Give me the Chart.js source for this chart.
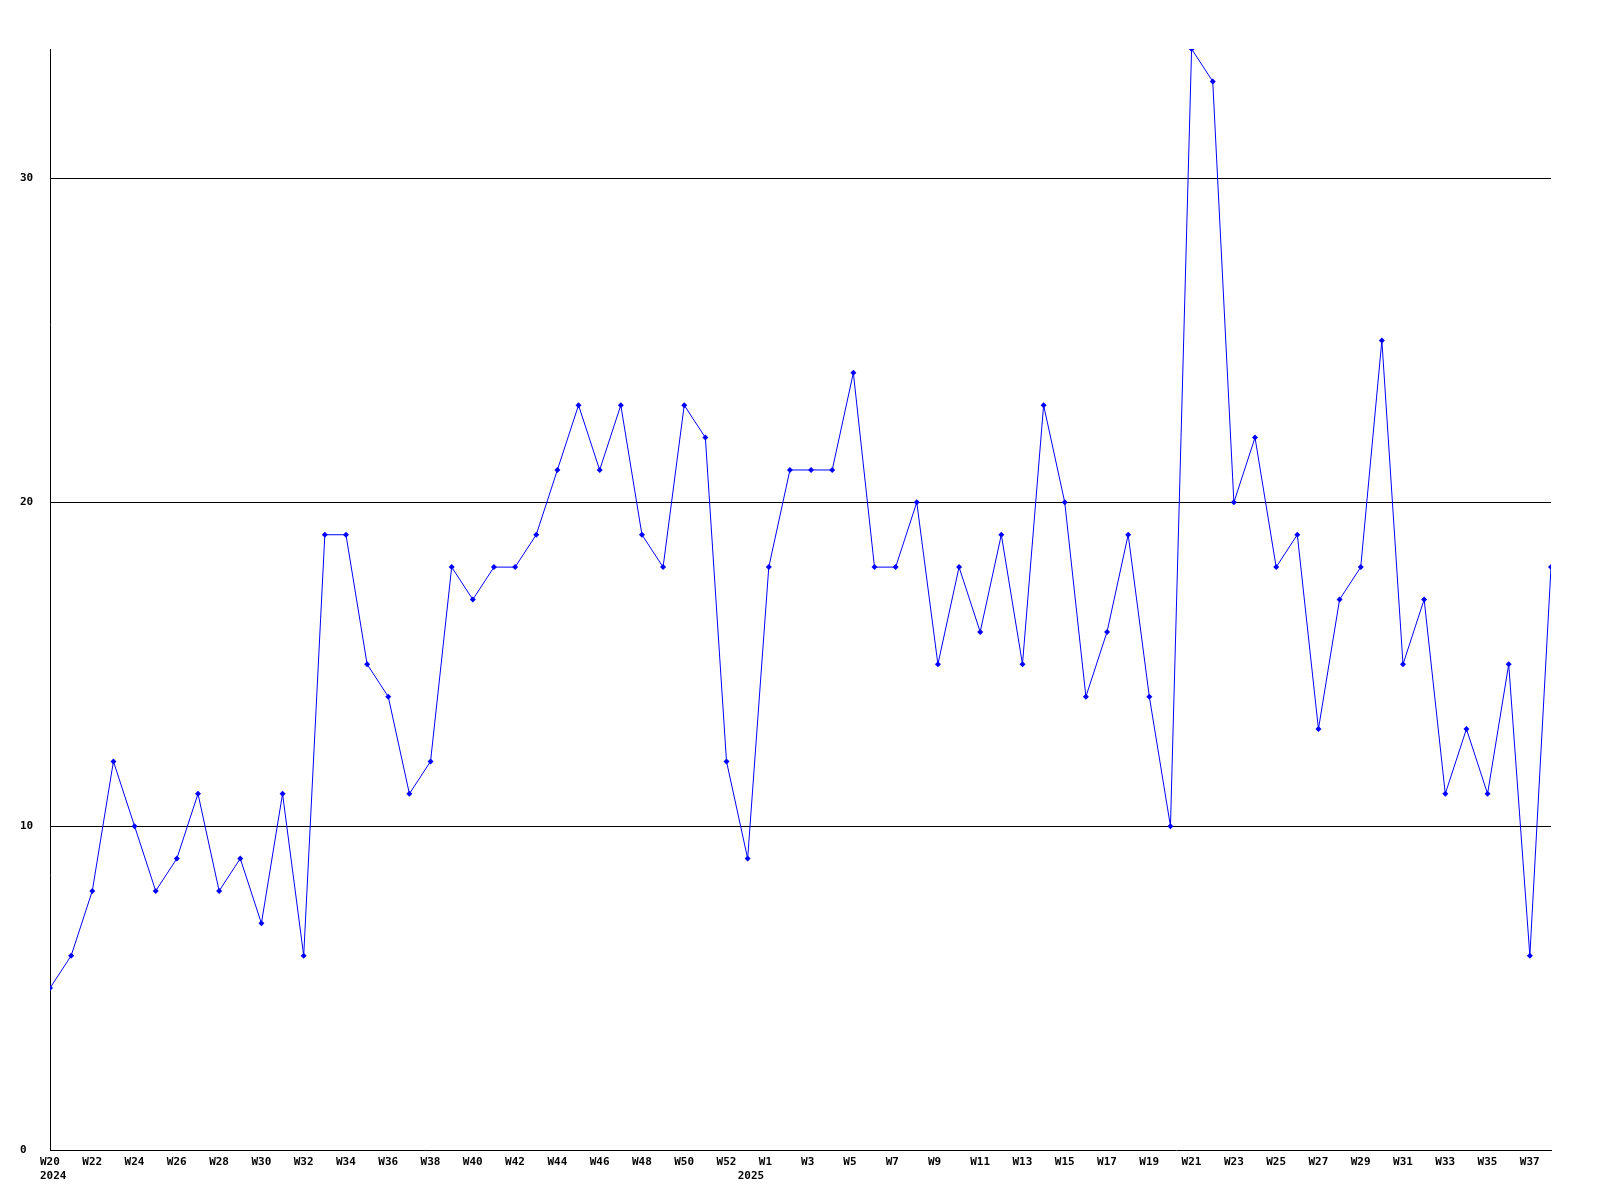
<!DOCTYPE html>
<html>
<head>
<meta charset="utf-8">
<script src="https://cdn.jsdelivr.net/npm/chart.js@4/dist/chart.umd.min.js"></script>
<style>
  html, body { margin: 0; padding: 0; background: #fff; }
  #wrap { width: 1600px; height: 1200px; }
</style>
</head>
<body>
<div id="wrap"><canvas id="weekChart"></canvas></div>
<script>
// weeks from W20 2024 through W38 2025 (2024 has a W53 that gets no label)
const weeks2024 = [20,21,22,23,24,25,26,27,28,29,30,31,32,33,34,35,36,37,38,39,40,41,42,43,44,45,46,47,48,49,50,51,52,53];
const weeks2025 = [1,2,3,4,5,6,7,8,9,10,11,12,13,14,15,16,17,18,19,20,21,22,23,24,25,26,27,28,29,30,31,32,33,34,35,36,37,38];

const counts = [
  5, 6, 8, 12, 10, 8, 9, 11, 8, 9, 7, 11, 6, 19, 19, 15, 14, 11, 12, 18,
  17, 18, 18, 19, 21, 23, 21, 23, 19, 18, 23, 22, 12, 9,
  18, 21, 21, 21, 24, 18, 18, 20, 15, 18, 16, 19, 15, 23, 20, 14,
  16, 19, 14, 10, 34, 33, 20, 22, 18, 19, 13, 17, 18, 25, 15, 17,
  11, 13, 11, 15, 6, 18
];

const yTicks = [0, 10, 20, 30];
const yMax = 34;

const labels = weeks2024.map(w => 'W' + w).concat(weeks2025.map(w => 'W' + w));
const firstOf2025 = weeks2024.length - 1; // year label sits under the W53 slot

const font = { family: '"DejaVu Sans Mono", "Liberation Mono", monospace', size: 11, weight: 'bold' };

const ctx = document.getElementById('weekChart').getContext('2d');

new Chart(ctx, {
  type: 'line',
  data: {
    labels: labels,
    datasets: [{
      data: counts,
      borderColor: '#0000ff',
      backgroundColor: '#0000ff',
      borderWidth: 1,
      pointStyle: 'rectRot',
      pointRadius: 3,
      pointBorderWidth: 0,
      fill: false,
      tension: 0,
      clip: 0
    }]
  },
  options: {
    responsive: true,
    maintainAspectRatio: false,
    animation: false,
    layout: { padding: { top: 49, right: 49, bottom: 0, left: 20 } },
    plugins: { legend: { display: false }, tooltip: { enabled: false } },
    scales: {
      x: {
        offset: false,
        grid: { display: false, drawTicks: false },
        border: { display: true, color: '#000', width: 1 },
        afterFit: scale => { scale.height = 50; },
        ticks: {
          autoSkip: false,
          maxRotation: 0,
          align: 'start',
          labelOffset: -10,
          padding: 6,
          color: '#000',
          font: font,
          callback: function(value, index) {
            if (index === 0) return [labels[index], '2024'];
            if (index === firstOf2025) return ['', '2025'];
            if (index % 2 === 0) return labels[index];
            return '';
          }
        }
      },
      y: {
        min: 0,
        max: yMax,
        afterFit: scale => { scale.width = 30; },
        afterBuildTicks: scale => { scale.ticks = yTicks.map(v => ({ value: v })); },
        grid: {
          color: ctx2 => ctx2.tick && ctx2.tick.value === 0 ? 'rgba(0,0,0,0)' : '#000',
          lineWidth: 1,
          drawTicks: false
        },
        border: { display: true, color: '#000', width: 1 },
        ticks: {
          includeBounds: false,
          crossAlign: 'far',
          padding: 0,
          color: '#000',
          font: font
        }
      }
    }
  }
});
</script>
</body>
</html>
